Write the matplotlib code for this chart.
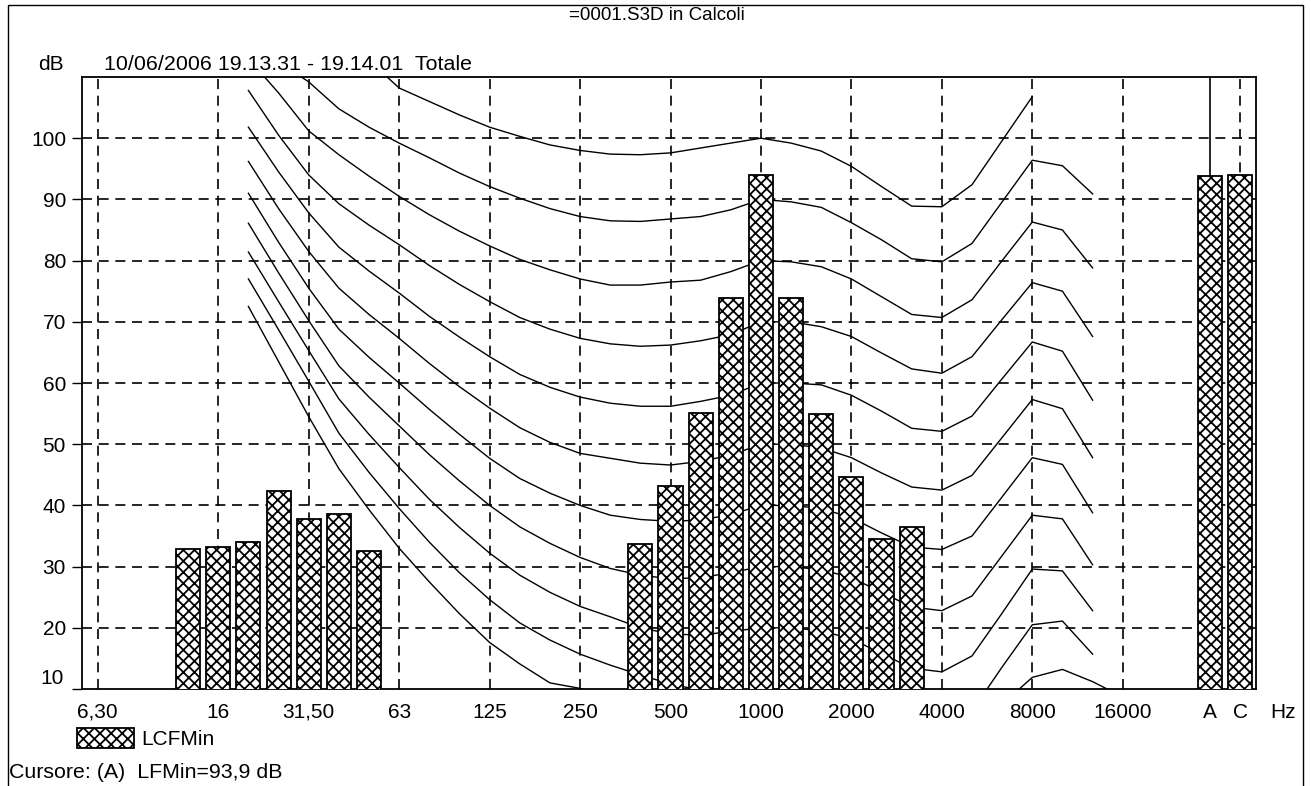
import numpy as np
import matplotlib
matplotlib.use('Agg')
import matplotlib.pyplot as plt
from matplotlib.patches import Rectangle

plt.rcParams['font.family'] = ['Liberation Sans', 'DejaVu Sans']
plt.rcParams['hatch.linewidth'] = 1.3

# third-octave bands, one slot each; A and C come after an empty slot
freqs = [6.3, 8, 10, 12.5, 16, 20, 25, 31.5, 40, 50, 63, 80, 100, 125, 160, 200,
         250, 315, 400, 500, 630, 800, 1000, 1250, 1600, 2000, 2500, 3150, 4000,
         5000, 6300, 8000, 10000, 12500, 16000, 20000]
total_names = ['A', 'C']
total_levels = [93.9, 94.0]

bar_freqs = [12.5, 16, 20, 25, 31.5, 40, 50, 400, 500, 630, 800, 1000, 1250, 1600,
             2000, 2500, 3150]
bar_levels = [32.9, 33.2, 34.0, 42.4, 37.8, 38.6, 32.6, 33.7, 43.1, 55.1, 73.9, 94.0,
              73.9, 55.0, 44.7, 34.5, 36.5]

tick_freqs = [6.3, 16, 31.5, 63, 125, 250, 500, 1000, 2000, 4000, 8000, 16000]
tick_labels = ['6,30', '16', '31,50', '63', '125', '250', '500', '1000', '2000',
               '4000', '8000', '16000']

# equal loudness contours, 20 Hz .. 16 kHz
contour_freqs = freqs[5:35]
phon0 = [72.5, 63.5, 54.5, 46.0, 39.3, 33.0, 27.5, 22.3, 17.6, 14.1, 11.0, 10.1, 8.0, 6.5,
         5.0, 3.5, 2.5, 0.0, 0.0, -0.5, -2.0, -4.0, -6.0, -7.0, -3.0, 7.5, 11.9, 13.2, 11.2, 8.7]
phon10 = [77.0, 68.7, 60.3, 51.8, 45.4, 39.5, 34.0, 29.0, 24.6, 20.8, 18.0, 15.7, 13.9, 12.3,
          10.8, 9.8, 9.5, 10.0, 10.0, 9.5, 8.2, 6.0, 3.6, 3.0, 6.4, 13.6, 20.5, 21.1, 15.7, None]
phon20 = [81.4, 73.3, 65.3, 57.4, 51.6, 46.2, 41.0, 36.4, 32.2, 28.6, 25.8, 23.5, 21.8, 20.0,
          19.0, 18.8, 19.4, 20.0, 20.0, 19.5, 18.2, 15.8, 13.4, 12.8, 15.4, 22.4, 29.6, 29.3, 22.8, None]
phon30 = [86.1, 78.0, 70.2, 62.8, 57.7, 53.0, 48.3, 44.0, 40.0, 36.5, 33.8, 31.5, 29.7, 28.6,
          28.0, 28.2, 29.0, 30.0, 30.0, 29.5, 28.2, 25.8, 23.4, 22.8, 25.2, 31.8, 38.4, 37.8, 30.3, None]
phon40 = [91.0, 83.0, 75.5, 68.8, 64.2, 60.0, 55.7, 51.6, 47.7, 44.4, 42.0, 40.0, 38.4, 37.7,
          37.4, 37.6, 38.5, 40.0, 40.0, 39.5, 38.0, 35.5, 33.2, 32.8, 35.0, 41.4, 47.8, 46.7, 38.8, None]
phon50 = [96.2, 88.5, 81.5, 75.5, 71.2, 67.3, 63.2, 59.4, 55.9, 52.7, 50.3, 48.5, 47.7, 46.9,
          46.6, 47.2, 48.2, 50.0, 50.0, 49.4, 47.8, 45.3, 43.0, 42.5, 44.9, 51.1, 57.3, 55.8, 47.8, None]
phon60 = [101.8, 94.5, 87.8, 82.2, 78.3, 74.7, 70.9, 67.5, 64.3, 61.4, 59.3, 57.7, 56.7, 56.2,
          56.2, 57.0, 58.0, 60.0, 60.0, 59.7, 58.0, 55.4, 52.6, 52.1, 54.6, 60.7, 66.7, 65.2, 57.2, None]
phon70 = [107.8, 100.5, 94.0, 89.3, 85.8, 82.6, 79.2, 76.1, 73.3, 70.7, 68.8, 67.3, 66.4, 66.0,
          66.2, 66.9, 67.9, 70.0, 70.0, 69.2, 67.6, 64.9, 62.3, 61.6, 64.3, 70.4, 76.4, 75.0, 67.6, None]
phon80 = [113.0, 107.4, 101.2, 97.3, 93.8, 90.5, 87.5, 84.8, 82.4, 80.2, 78.5, 77.0, 76.0, 76.0,
          76.5, 76.8, 78.2, 80.0, 79.8, 79.0, 77.0, 74.1, 71.2, 70.7, 73.6, 80.0, 86.3, 85.0, 78.8, None]
phon90 = [117.0, 112.5, 109.2, 104.8, 101.8, 99.2, 96.8, 94.3, 92.1, 90.2, 88.5, 87.2, 86.5, 86.4,
          86.8, 87.2, 88.3, 90.0, 89.6, 88.7, 86.2, 83.4, 80.3, 79.8, 82.8, 89.6, 96.4, 95.5, 90.9, None]
phon100 = [None, None, None, None, 112.7, 108.2, 106.0, 103.8, 101.8, 100.3, 98.9, 98.0, 97.4, 97.3,
           97.6, 98.4, 99.2, 100.0, 99.2, 97.9, 95.4, 92.1, 88.9, 88.8, 92.4, 99.6, 106.8, None, None, None]

W, H = 1311, 786
FS = 15
fig = plt.figure(figsize=(W / 100, H / 100), dpi=100)
ax = fig.add_axes([82 / W, 1 - 689 / H, (1256 - 82) / W, (689 - 77) / H])

idx = {f: i for i, f in enumerate(freqs)}
total_pos = [36.9, 37.9]

# grid
dash = (0, (6, 4))
for f in tick_freqs:
    ax.axvline(idx[f], color='k', lw=1.2, ls=dash, zorder=1)
ax.axvline(total_pos[1], color='k', lw=1.2, ls=dash, zorder=1)
for v in range(20, 101, 10):
    ax.axhline(v, color='k', lw=1.2, ls=dash, zorder=1)

cx = [idx[f] for f in contour_freqs]
for curve in [phon0, phon10, phon20, phon30, phon40, phon50, phon60, phon70, phon80, phon90, phon100]:
    ax.plot(cx, np.array(curve, dtype=float), color='k', lw=1.0, zorder=2)

bars = ax.bar([idx[f] for f in bar_freqs] + total_pos, bar_levels + total_levels, width=0.8,
              color='white', edgecolor='black', hatch='xxx', lw=1.3, zorder=3, label='LCFMin')
# cursor on A
ax.plot([total_pos[0]] * 2, [total_levels[0], 110], color='k', lw=1.2, zorder=4)

ax.set_xlim(-0.52, 38.42)
ax.set_ylim(10, 110)
ax.set_xticks([idx[f] for f in tick_freqs] + total_pos)
ax.set_xticklabels(tick_labels + total_names)
ax.tick_params(axis='x', length=0, pad=10, labelsize=FS)
ax.set_yticks(range(10, 101, 10))
ax.set_yticklabels([''] + [str(v) for v in range(20, 101, 10)])
ax.tick_params(axis='y', direction='out', length=7, width=1, pad=4.5, labelsize=FS)
for s in ax.spines.values():
    s.set_linewidth(1.3)

fig.text(64 / W, 1 - 678 / H, '10', ha='right', va='center', fontsize=FS)
fig.text(1283 / W, 1 - 712 / H, 'Hz', ha='center', va='center', fontsize=FS)
fig.text(657 / W, 1 - 15 / H, '=0001.S3D in Calcoli', ha='center', va='center', fontsize=13.5)
fig.text(38 / W, 1 - 65 / H, 'dB', ha='left', va='center', fontsize=FS)
fig.text(104 / W, 1 - 65 / H, '10/06/2006 19.13.31 - 19.14.01  Totale', ha='left', va='center',
         fontsize=15.4)
fig.text(9 / W, 1 - 773 / H, 'Cursore: (A)  LFMin=93,9 dB', ha='left', va='center', fontsize=15.4)

fig.legend(handles=[bars], labels=['LCFMin'], loc='upper left', bbox_to_anchor=(67 / W, 1 - 718 / H),
           frameon=False, fontsize=FS, borderpad=0, handlelength=2.7, handleheight=1.05,
           handletextpad=0.35)

fig.add_artist(Rectangle((8 / W, -0.05), (1303 - 8) / W, 1.05 - 5 / H, transform=fig.transFigure,
                         fill=False, ec='k', lw=1.0))

fig.savefig('out.png', dpi=100)
